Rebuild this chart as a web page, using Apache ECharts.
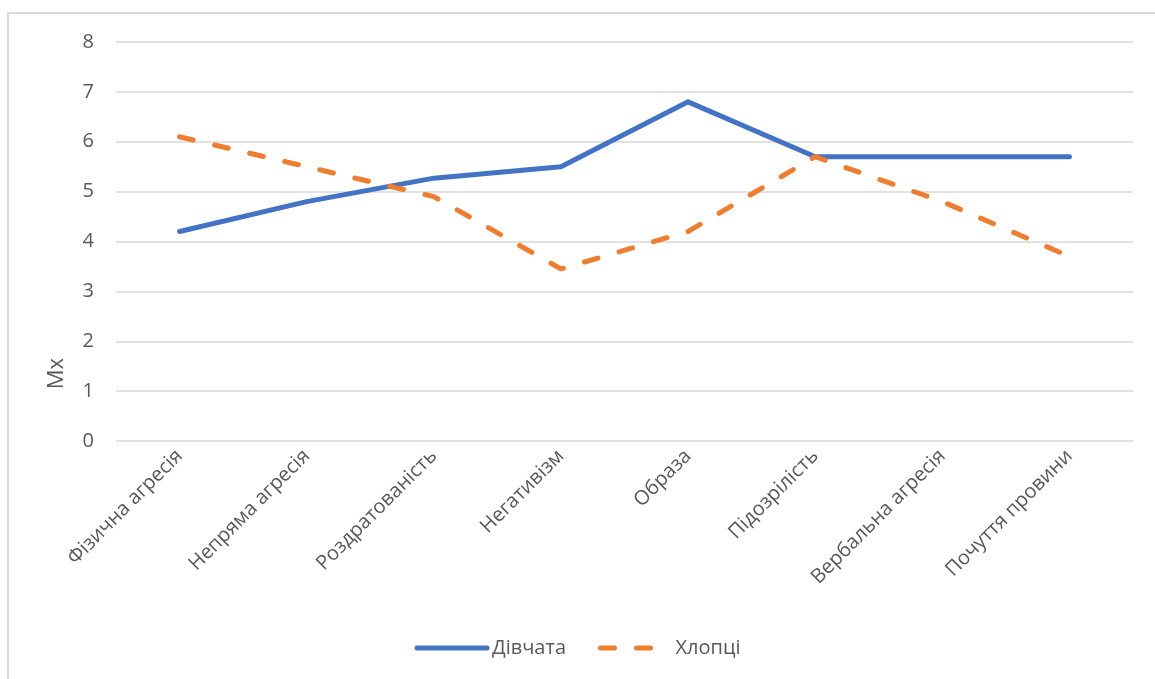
<!DOCTYPE html>
<html>
<head>
<meta charset="utf-8">
<script src="https://cdn.jsdelivr.net/npm/echarts@6/dist/echarts.min.js"></script>
<style>
  html, body { margin: 0; padding: 0; background: #fff; }
  #frame { position: absolute; left: 7px; top: 12px; width: 1200px; height: 700px;
           border-left: 2px solid #d9d9d9; border-top: 2px solid #d9d9d9; }
  #chart { position: absolute; left: 0; top: 0; width: 1155px; height: 679px; }
</style>
</head>
<body>
<div id="frame"></div>
<div id="chart"></div>
<script>
var categories = ["Фізична агресія", "Непряма агресія", "Роздратованість", "Негативізм",
  "Образа", "Підозрілість", "Вербальна агресія", "Почуття провини"];
var girls = [4.2, 4.8, 5.27, 5.5, 6.8, 5.7, 5.7, 5.7];
var boys = [6.1, 5.5, 4.9, 3.45, 4.2, 5.7, 4.8, 3.7];
var seriesNames = ["Дівчата", "Хлопці"];
var yTicks = [0, 8, 1];

(function () {
  var font = "'Open Sans', 'Noto Sans', sans-serif";
  var textColor = "#595959";
  var chart = echarts.init(document.getElementById("chart"));
  chart.setOption({
    animation: false,
    textStyle: { fontFamily: font },
    grid: { left: 116, right: 22, top: 42, bottom: 238, containLabel: false },
    legend: {
      bottom: 16,
      left: "center",
      itemWidth: 70,
      itemHeight: 12,
      itemGap: 32,
      itemStyle: { opacity: 0 },
      lineStyle: { width: 5, cap: "round" },
      textStyle: { color: textColor, fontSize: 20, fontFamily: font },
      data: seriesNames
    },
    graphic: [{
      type: "text",
      left: 46,
      top: 358,
      rotation: Math.PI / 2,
      style: { text: "Mx", fill: textColor, font: "22px " + font }
    }],
    xAxis: {
      type: "category",
      data: categories,
      boundaryGap: true,
      axisLine: { show: false },
      axisTick: { show: false },
      axisLabel: { rotate: 45, color: textColor, fontSize: 20, margin: 12, interval: 0 }
    },
    yAxis: {
      type: "value",
      min: yTicks[0],
      max: yTicks[1],
      interval: yTicks[2],
      axisLine: { show: false },
      axisTick: { show: false },
      axisLabel: { color: textColor, fontSize: 20, margin: 22 },
      splitLine: { lineStyle: { color: "#d9d9d9", width: 1.5 } }
    },
    series: [
      {
        name: seriesNames[0],
        type: "line",
        data: girls,
        symbol: "none",
        color: "#4472C4",
        lineStyle: { width: 5, color: "#4472C4", cap: "round", join: "round" }
      },
      {
        name: seriesNames[1],
        type: "line",
        data: boys,
        symbol: "none",
        color: "#ED7D31",
        lineStyle: { width: 5, color: "#ED7D31", type: [14, 22], cap: "round", join: "round" }
      }
    ]
  });
})();
</script>
</body>
</html>
